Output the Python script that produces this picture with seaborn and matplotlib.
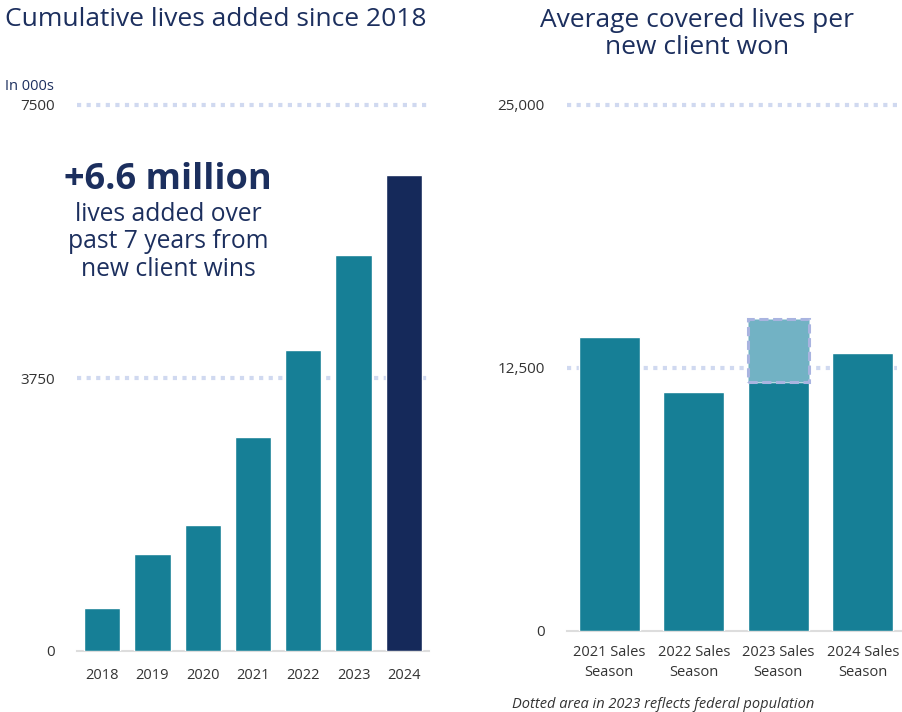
import matplotlib
matplotlib.use("Agg")
import matplotlib.pyplot as plt
import seaborn as sns
import pandas as pd
import numpy as np

years = ["2018", "2019", "2020", "2021", "2022", "2023", "2024"]
cumulative_lives = [590, 1330, 1730, 2940, 4130, 5440, 6540]
left_ticks = [0, 3750, 7500]
left_ticklabels = ["0", "3750", "7500"]

seasons = ["2021 Sales\nSeason", "2022 Sales\nSeason", "2023 Sales\nSeason", "2024 Sales\nSeason"]
avg_lives = [13980, 11350, 11830, 13200]
federal_lives = [0, 0, 3000, 0]
right_ticks = [0, 12500, 25000]
right_ticklabels = ["0", "12,500", "25,000"]

TEAL = "#167f96"
NAVY = "#15295a"
TITLE = "#1c2f5e"
GRID = "#d0d9f0"
TXT = "#333333"

sns.set_theme(style="white")
plt.rcParams["font.family"] = ["Open Sans", "DejaVu Sans"]

fig = plt.figure(figsize=(9.02, 7.12), dpi=100)
W, H = 902, 712

def add_axes(x0, x1, ytop, ybot):
    return fig.add_axes([x0 / W, 1 - ybot / H, (x1 - x0) / W, (ybot - ytop) / H])

# ---------- left chart ----------
axL = add_axes(77, 429, 105, 651)
dfL = pd.DataFrame({"year": years, "lives": cumulative_lives})
palL = {y: (NAVY if y == "2024" else TEAL) for y in years}
sns.barplot(data=dfL, x="year", y="lives", hue="year", palette=palL, legend=False,
            width=0.72, saturation=1, ax=axL, zorder=3)
axL.set_ylim(0, 7500)
axL.set_xlim(-0.5, 6.5)
for v in left_ticks[1:]:
    axL.axhline(v, color=GRID, lw=3, ls=(0, (1, 1.3)), zorder=1, clip_on=False)
axL.set_yticks(left_ticks)
axL.set_yticklabels(left_ticklabels, fontsize=11, color=TXT)
axL.tick_params(axis="y", length=0, pad=16)
axL.tick_params(axis="x", length=0, pad=12, labelsize=10.5, labelcolor=TXT)
axL.set_xlabel("")
axL.set_ylabel("")
for s in ["top", "right", "left"]:
    axL.spines[s].set_visible(False)
axL.spines["bottom"].set_color("#dddddd")
axL.spines["bottom"].set_linewidth(1.5)

fig.text(5 / W, 1 - 19 / H, "Cumulative lives added since 2018", fontsize=19,
         color=TITLE, ha="left", va="center")
fig.text(5 / W, 1 - 86 / H, "In 000s", fontsize=10.5, color=TITLE, ha="left", va="center")
fig.text(168 / W, 1 - 180 / H, "+6.6 million", fontsize=26, fontweight="bold",
         color=TITLE, ha="center", va="center")
fig.text(168 / W, 1 - 242 / H, "lives added over\npast 7 years from\nnew client wins",
         fontsize=17.7, color=TITLE, ha="center", va="center", linespacing=1.15)

# ---------- right chart ----------
axR = add_axes(567, 905, 105, 631)
dfR = pd.DataFrame({"season": seasons, "lives": avg_lives})
sns.barplot(data=dfR, x="season", y="lives", color=TEAL, width=0.72, saturation=1,
            ax=axR, zorder=3)
xpos = np.arange(len(seasons))
fed = np.array(federal_lives)
base = np.array(avg_lives)
mask = fed > 0
axR.bar(xpos[mask], fed[mask], bottom=base[mask], width=0.72, color="#72b2c4",
        edgecolor="#a9b4e0", linewidth=2.2, linestyle=(0, (3, 1.5)), zorder=4)
axR.set_ylim(0, 25000)
axR.set_xlim(-0.5, 3.5)
for v in right_ticks[1:]:
    axR.axhline(v, color=GRID, lw=3, ls=(0, (1, 1.3)), zorder=1, clip_on=False)
axR.set_yticks(right_ticks)
axR.set_yticklabels(right_ticklabels, fontsize=11, color=TXT)
axR.tick_params(axis="y", length=0, pad=16)
axR.tick_params(axis="x", length=0, pad=10, labelsize=10.5, labelcolor=TXT)
for lab in axR.get_xticklabels():
    lab.set_linespacing(1.45)
axR.set_xlabel("")
axR.set_ylabel("")
for s in ["top", "right", "left"]:
    axR.spines[s].set_visible(False)
axR.spines["bottom"].set_color("#dddddd")
axR.spines["bottom"].set_linewidth(1.5)

fig.text(697 / W, 1 - 34 / H, "Average covered lives per\nnew client won", fontsize=19,
         color=TITLE, ha="center", va="center", linespacing=1.08)
fig.text(512 / W, 1 - 704 / H, "Dotted area in 2023 reflects federal population",
         fontsize=10.5, style="italic", color=TXT, ha="left", va="center")

fig.savefig("out.png", dpi=100)
